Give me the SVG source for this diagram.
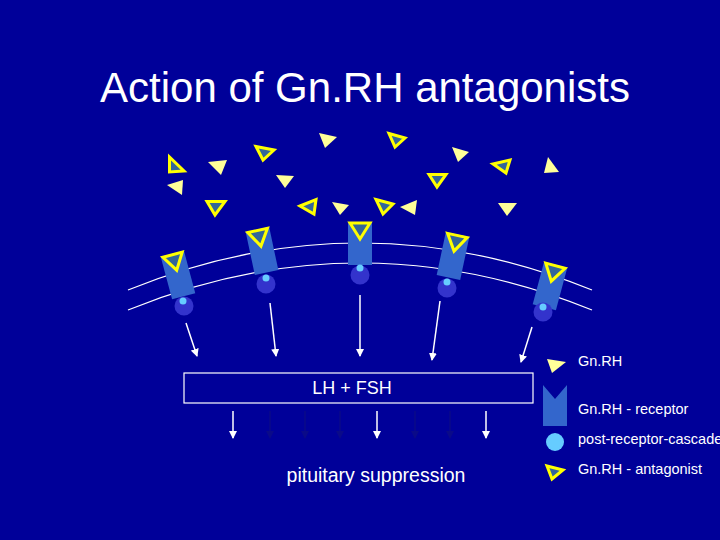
<svg xmlns="http://www.w3.org/2000/svg" width="720" height="540" viewBox="0 0 720 540">
<defs>
<style>
text{font-family:"Liberation Sans",Arial,sans-serif;fill:#fff}
.g{fill:#ffff99}
.a{fill:#336699;stroke:#ffff00;stroke-width:3;stroke-linejoin:miter}
.rec{fill:#3366cc}
.cas{fill:#3333cc}
.dot{fill:#66ccff}
.ar{stroke:#fff;stroke-width:1.5;fill:none;marker-end:url(#h)}
.fa{stroke:#0a0a88;stroke-width:1.5;fill:none;marker-end:url(#hf)}
</style>
<marker id="h" markerWidth="8" markerHeight="8" refX="7" refY="4" orient="auto" markerUnits="userSpaceOnUse"><path d="M0,0L8,4L0,8z" fill="#fff"/></marker>
<marker id="hf" markerWidth="8" markerHeight="8" refX="7" refY="4" orient="auto" markerUnits="userSpaceOnUse"><path d="M0,0L8,4L0,8z" fill="#0a0a88"/></marker>
<path id="ant" class="a" d="M-10,-7L10,-7L0,9z"/>
</defs>
<rect width="720" height="540" fill="#000099"/>
<text x="365" y="102" font-size="42" text-anchor="middle">Action of Gn.RH antagonists</text>
<g id="membrane" fill="none" stroke="#fff" stroke-width="1.2">
<path d="M128,290 Q360,196 592,290"/>
<path d="M128,310 Q360,216 592,310"/>
</g>
<g id="free-ligands">
<polygon class="a" points="169.5,157 169.5,172 184,171"/>
<polygon class="g" points="208,162 227,160 221,175"/>
<polygon class="g" points="167,185 183,180 182,195"/>
<polygon class="a" points="207,201.5 225,201.5 215,215"/>
<polygon class="a" points="256,146.5 274,150 263,160"/>
<polygon class="g" points="276,175 294,176 285,188"/>
<polygon class="g" points="319,133 337,137 325,148"/>
<polygon class="a" points="300,206 316,199.5 314,214"/>
<polygon class="g" points="332,202 349,205 340,215"/>
<polygon class="a" points="376,199.5 393,204 383,214"/>
<polygon class="g" points="400,207 417,200 415,215"/>
<polygon class="a" points="389,133.5 405,138 395,147"/>
<polygon class="a" points="429,174.5 446,174.5 437,187"/>
<polygon class="g" points="452,147 469,152 458,162"/>
<polygon class="a" points="493,164 510,160 506,173"/>
<polygon class="g" points="498,203 517,203 507,216"/>
<polygon class="g" points="548,157 559,172 544,173"/>
</g>
<g id="receptor1" transform="translate(178,275) rotate(-15)">
<rect class="rec" x="-12" y="-22" width="24" height="44"/>
<use href="#ant" transform="translate(0,-14)"/>
</g>
<g id="cascade1"><circle class="cas" cx="184" cy="306" r="9.5"/><circle class="dot" cx="183" cy="301" r="3.5"/></g>
<g id="receptor2" transform="translate(262,251) rotate(-12)">
<rect class="rec" x="-12" y="-22" width="24" height="44"/>
<use href="#ant" transform="translate(0,-14)"/>
</g>
<g id="cascade2"><circle class="cas" cx="266" cy="284" r="9.5"/><circle class="dot" cx="266" cy="278" r="3.5"/></g>
<g id="receptor3" transform="translate(360,243)">
<rect class="rec" x="-12" y="-21" width="24" height="43"/>
<use href="#ant" transform="translate(0,-13)"/>
</g>
<g id="cascade3"><circle class="cas" cx="360" cy="275" r="9.5"/><circle class="dot" cx="360" cy="268" r="3.5"/></g>
<g id="receptor4" transform="translate(453,256) rotate(12)">
<rect class="rec" x="-12" y="-22" width="24" height="44"/>
<use href="#ant" transform="translate(0,-14)"/>
</g>
<g id="cascade4"><circle class="cas" cx="447" cy="288" r="9.5"/><circle class="dot" cx="447" cy="282" r="3.5"/></g>
<g id="receptor5" transform="translate(550,286) rotate(15)">
<rect class="rec" x="-12" y="-22" width="24" height="44"/>
<use href="#ant" transform="translate(0,-14)"/>
</g>
<g id="cascade5"><circle class="cas" cx="543" cy="312" r="9.5"/><circle class="dot" cx="543" cy="307" r="3.5"/></g>
<g id="connectors">
<line class="ar" x1="186" y1="323" x2="197" y2="356"/>
<line class="ar" x1="270" y1="303" x2="276" y2="356"/>
<line class="ar" x1="360" y1="295" x2="360" y2="356"/>
<line class="ar" x1="440" y1="301" x2="432" y2="360"/>
<line class="ar" x1="532" y1="327" x2="521" y2="362"/>
<line class="ar" x1="233" y1="411" x2="233" y2="438"/>
<line class="ar" x1="377" y1="411" x2="377" y2="438"/>
<line class="ar" x1="486" y1="411" x2="486" y2="438"/>
<line class="fa" x1="270" y1="411" x2="270" y2="438"/>
<line class="fa" x1="305" y1="411" x2="305" y2="438"/>
<line class="fa" x1="340" y1="411" x2="340" y2="438"/>
<line class="fa" x1="415" y1="411" x2="415" y2="438"/>
<line class="fa" x1="450" y1="411" x2="450" y2="438"/>
</g>
<g id="lhfsh">
<rect x="184" y="373" width="349" height="30" fill="none" stroke="#fff" stroke-width="1.2"/>
<text x="352" y="394" font-size="18" text-anchor="middle">LH + FSH</text>
</g>
<text x="376" y="482" font-size="19.5" text-anchor="middle">pituitary suppression</text>
<g id="legend">
<polygon class="g" points="547,359 566,362 552,373"/>
<text x="578" y="366" font-size="14.5">Gn.RH</text>
<path class="rec" d="M543,385L555,399L567,385L567,426L543,426z"/>
<text x="578" y="414" font-size="14.5">Gn.RH - receptor</text>
<circle class="dot" cx="555" cy="442" r="9"/>
<text x="578" y="444" font-size="14.5">post-receptor-cascade</text>
<polygon class="a" points="547,466 563,470 552,479"/>
<text x="578" y="474" font-size="14.5">Gn.RH - antagonist</text>
</g>
</svg>
